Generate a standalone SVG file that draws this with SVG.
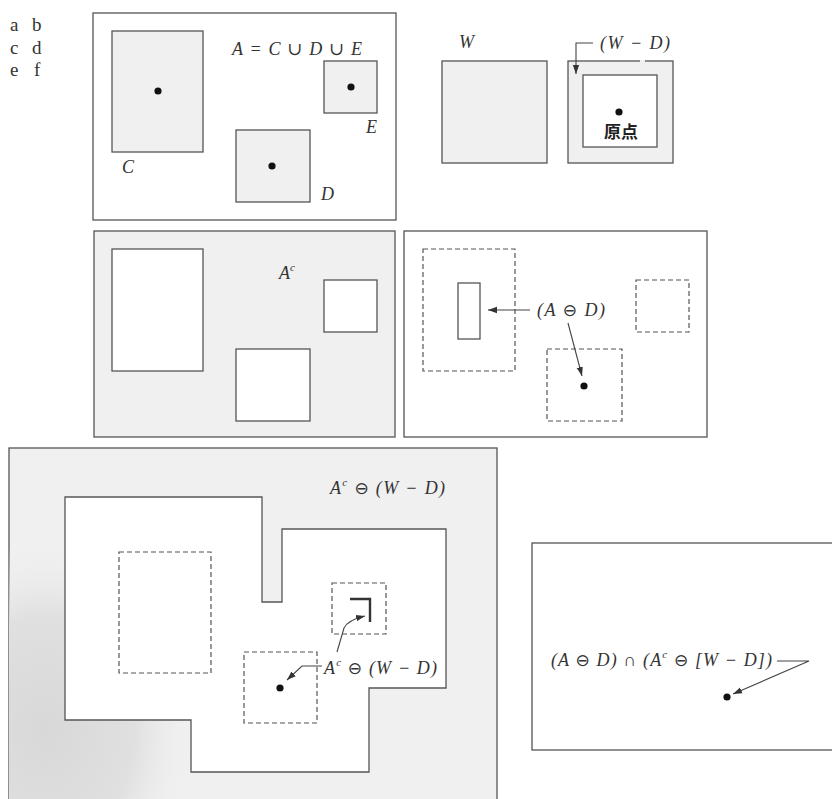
<svg xmlns="http://www.w3.org/2000/svg" width="832" height="799" viewBox="0 0 832 799">
<defs>
<style>
.frame{fill:#fff;stroke:#555;stroke-width:1.3}
.gray{fill:#f0f0f0;stroke:#555;stroke-width:1.3}
.white{fill:#fff;stroke:#555;stroke-width:1.3}
.dash{fill:none;stroke:#555;stroke-width:1.2;stroke-dasharray:5 3}
.lbl{font-family:"Liberation Serif","DejaVu Serif",serif;font-style:italic;font-size:18px;fill:#333}
.tag{font-family:"Liberation Serif","DejaVu Serif",serif;font-size:19px;fill:#333}
.cjk{font-family:"Noto Sans CJK SC","Noto Sans CJK JP",sans-serif;font-weight:bold;font-size:17px;fill:#222}
.sup{font-size:11px}
.op{font-family:"DejaVu Sans",sans-serif;font-style:normal;font-size:17px}
.conn{fill:none;stroke:#444;stroke-width:1.1}
.dot{fill:#111}
</style>
<marker id="ah" viewBox="0 0 10 10" refX="10" refY="5" markerWidth="9" markerHeight="9" markerUnits="userSpaceOnUse" orient="auto"><path d="M0,1.5 L10,5 L0,8.5 z" fill="#333"/></marker>
<radialGradient id="speck" cx="0.5" cy="0.5" r="0.5">
<stop offset="0" stop-color="#d8d8d8"/>
<stop offset="0.6" stop-color="#e0e0e0"/>
<stop offset="1" stop-color="#f0f0f0" stop-opacity="0"/>
</radialGradient>
<clipPath id="clipE"><rect x="9" y="448" width="488" height="360"/></clipPath>
</defs>
<rect x="0" y="0" width="832" height="799" fill="#fff"/>

<g id="panel-labels">
<text class="tag" x="10" y="31">a</text><text class="tag" x="32" y="31">b</text>
<text class="tag" x="10" y="54">c</text><text class="tag" x="32" y="54">d</text>
<text class="tag" x="10" y="76">e</text><text class="tag" x="34" y="76">f</text>
</g>

<g id="panel-a">
<rect class="frame" x="93" y="13" width="303" height="207"/>
<g id="node-C"><rect class="gray" x="112" y="31" width="91" height="121"/><circle class="dot" cx="158" cy="91" r="3.6"/><text class="lbl" x="122" y="173">C</text></g>
<g id="node-D"><rect class="gray" x="236" y="130" width="74" height="72"/><circle class="dot" cx="272" cy="166" r="3.6"/><text class="lbl" x="321" y="200">D</text></g>
<g id="node-E"><rect class="gray" x="324" y="61" width="53" height="52"/><circle class="dot" cx="351" cy="87" r="3.6"/><text class="lbl" x="366" y="133">E</text></g>
<text class="lbl" x="232" y="55" textLength="130" lengthAdjust="spacing">A = C ∪ D ∪ E</text>
</g>

<g id="panel-b">
<g id="node-W"><rect class="gray" x="442" y="61" width="105" height="102"/><text class="lbl" x="459" y="48">W</text></g>
<g id="node-WD">
<rect class="gray" x="568" y="61" width="105" height="102"/>
<line x1="640" y1="61" x2="645" y2="61" stroke="#f0f0f0" stroke-width="2"/>
<rect class="white" x="583" y="75" width="74" height="72"/>
<circle class="dot" cx="619" cy="112" r="3.6"/>
<text class="cjk" x="604" y="138">原点</text>
<text class="lbl" x="600" y="49" textLength="70" lengthAdjust="spacing">(W − D)</text>
</g>
</g>

<g id="panel-c">
<rect class="gray" x="94" y="231" width="301" height="206"/>
<rect class="white" x="112" y="249" width="91" height="122"/>
<rect class="white" x="236" y="349" width="74" height="72"/>
<rect class="white" x="324" y="280" width="53" height="52"/>
<text class="lbl" x="279" y="279">A<tspan class="sup" dy="-8">c</tspan></text>
</g>

<g id="panel-d">
<rect class="frame" x="404" y="231" width="303" height="206"/>
<rect class="dash" x="423" y="249" width="92" height="122"/>
<rect class="white" x="458" y="283" width="22" height="56"/>
<rect class="dash" x="636" y="280" width="53" height="52"/>
<rect class="dash" x="547" y="349" width="75" height="72"/>
<circle class="dot" cx="584" cy="386" r="3.6"/>
<text class="lbl" x="537" y="316" textLength="68" lengthAdjust="spacing">(A <tspan class="op">⊖</tspan> D)</text>
</g>

<g id="panel-e">
<rect class="gray" x="9" y="448" width="488" height="360"/>
<g clip-path="url(#clipE)"><ellipse cx="45" cy="730" rx="150" ry="190" fill="url(#speck)"/></g>
<polygon fill="#fff" stroke="#555" stroke-width="1.3" points="65,497 262,497 262,602 282,602 282,529 446,529 446,688 369,688 369,772 191,772 191,720 65,720"/>
<rect class="dash" x="119" y="552" width="92" height="121"/>
<rect class="dash" x="332" y="583" width="54" height="51"/>
<rect class="dash" x="244" y="652" width="73" height="71"/>
<path d="M350,599 H370 V622" fill="none" stroke="#333" stroke-width="2.4"/>
<circle class="dot" cx="280" cy="688" r="3.6"/>
<text class="lbl" x="330" y="494" textLength="115" lengthAdjust="spacing">A<tspan class="sup" dy="-8">c</tspan><tspan dy="8"> </tspan><tspan class="op">⊖</tspan> (W − D)</text>
<text class="lbl" x="324" y="674" textLength="113" lengthAdjust="spacing">A<tspan class="sup" dy="-8">c</tspan><tspan dy="8"> </tspan><tspan class="op">⊖</tspan> (W − D)</text>
</g>

<g id="panel-f">
<rect class="frame" x="532" y="543" width="310" height="207"/>
<circle class="dot" cx="727" cy="697" r="3.6"/>
<text class="lbl" x="551" y="666" textLength="221" lengthAdjust="spacing">(A <tspan class="op">⊖</tspan> D) ∩ (A<tspan class="sup" dy="-8">c</tspan><tspan dy="8"> </tspan><tspan class="op">⊖</tspan> [W − D])</text>
</g>

<g id="connectors">
<path class="conn" d="M593,43 H576 V74" marker-end="url(#ah)"/>
<path class="conn" d="M530,310 H488" marker-end="url(#ah)"/>
<path class="conn" d="M568,323 L582,376" marker-end="url(#ah)"/>
<path class="conn" d="M337,652 L344,628 Q348,620 365,616" marker-end="url(#ah)"/>
<path class="conn" d="M322,666 H302 L287,680" marker-end="url(#ah)"/>
<path class="conn" d="M777,661 H809 L733,694" marker-end="url(#ah)"/>
</g>
</svg>
